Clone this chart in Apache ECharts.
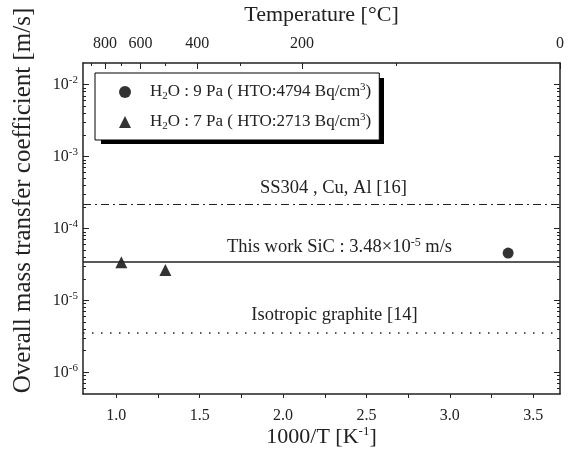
<!DOCTYPE html>
<html>
<head>
<meta charset="utf-8">
<script src="https://cdn.jsdelivr.net/npm/echarts@6/dist/echarts.min.js"></script>
<style>
  html, body { margin: 0; padding: 0; background: #fff; }
  #chart { width: 569px; height: 455px; }
</style>
</head>
<body>
<div id="chart"></div>
<script>
// 数据
const xMin = 0.8;
const xMax = 1000 / 273.15;
const xTickLabels = [1.0, 1.5, 2.0, 2.5, 3.0, 3.5];
const xTicks = [1.0, 1.25, 1.5, 1.75, 2.0, 2.25, 2.5, 2.75, 3.0, 3.25, 3.5];
const tempMajorC = [800, 600, 400, 200, 0];
const tempMinorC = [900, 700, 500, 300, 100];
const yMin = 5e-7;
const yMax = 2e-2;
const yMajor = [1e-6, 1e-5, 1e-4, 1e-3, 1e-2];
const yMinorMult = [2, 3, 4, 5, 6, 7, 8, 9];

const h2o9X = [3.35];
const h2o9Y = [4.55e-5];
const h2o7X = [1.03, 1.294];
const h2o7Y = [3.4e-5, 2.64e-5];

const ss304Value = 2.2e-4;
const thisWorkValue = 3.48e-5;
const graphiteValue = 3.5e-6;

const FONT = '"Liberation Serif", "Times New Roman", serif';
const INK = '#222';

// 温度 -> 1000/T
const toInvT = t => 1000 / (t + 273.15);

// 对数轴的次刻度
const yMinor = [];
[-7, -6, -5, -4, -3, -2].forEach(e => {
  yMinorMult.forEach(m => {
    const v = m * Math.pow(10, e);
    if (v > yMin && v < yMax) yMinor.push(v);
  });
});

const supRich = {
  b: { fontFamily: FONT, fontSize: 16, color: INK },
  s: { fontFamily: FONT, fontSize: 11, color: INK, padding: [0, 0, 9, 0] }
};

const legendText = {
  h2o9: '{t|H}{sub|2}{t|O : 9 Pa ( HTO:4794 Bq/cm}{sup|3}{t|)}',
  h2o7: '{t|H}{sub|2}{t|O : 7 Pa ( HTO:2713 Bq/cm}{sup|3}{t|)}'
};

const chart = echarts.init(document.getElementById('chart'));

function yAxisCfg(pos, values, len, showLine, showLabel, extra) {
  return Object.assign({
    type: 'log',
    position: pos,
    min: yMin,
    max: yMax,
    axisLine: { show: showLine, lineStyle: { color: INK, width: 1.5 } },
    axisTick: { show: true, inside: true, length: len, customValues: values, lineStyle: { color: INK, width: 1 } },
    axisLabel: showLabel ? {
      customValues: values,
      margin: 5,
      formatter: v => '{b|10}{s|' + Math.round(Math.log10(v)) + '}',
      rich: supRich
    } : { show: false },
    splitLine: { show: false }
  }, extra || {});
}

const option = {
  animation: false,
  backgroundColor: '#fff',
  textStyle: { fontFamily: FONT },
  grid: { left: 83, right: 9, top: 63, bottom: 61, containLabel: false, outerBoundsMode: 'none' },
  // 图例阴影
  graphic: [{
    type: 'rect',
    z: 3,
    silent: true,
    shape: { x: 101, y: 78, width: 283, height: 66 },
    style: { fill: '#000' }
  }],
  legend: {
    data: ['h2o9', 'h2o7'],
    orient: 'vertical',
    left: 95,
    top: 73,
    padding: [9, 8, 8, 24],
    itemGap: 10,
    itemWidth: 12,
    itemHeight: 12,
    backgroundColor: '#fff',
    borderColor: '#000',
    borderWidth: 1,
    formatter: name => legendText[name],
    textStyle: {
      padding: [0, 0, 0, 14],
      rich: {
        t: { fontFamily: FONT, fontSize: 17, color: INK },
        sub: { fontFamily: FONT, fontSize: 11, color: INK, padding: [9, 0, 0, 0] },
        sup: { fontFamily: FONT, fontSize: 11, color: INK, padding: [0, 0, 9, 0] }
      }
    }
  },
  xAxis: [
    {
      type: 'value',
      position: 'bottom',
      min: xMin,
      max: xMax,
      axisLine: { lineStyle: { color: INK, width: 1.5 } },
      axisTick: { inside: false, length: 4, customValues: xTicks, lineStyle: { color: INK } },
      axisLabel: {
        customValues: xTickLabels,
        margin: 14,
        fontFamily: FONT, fontSize: 16, color: INK,
        formatter: v => v.toFixed(1)
      },
      splitLine: { show: false },
      name: '1000/T [K{s|-1}]',
      nameLocation: 'middle',
      nameGap: 31,
      nameMoveOverlap: false,
      nameTextStyle: {
        fontFamily: FONT, fontSize: 22, color: INK,
        rich: {
          s: { fontFamily: FONT, fontSize: 13, color: INK, padding: [0, 0, 12, 0] }
        }
      }
    },
    {
      type: 'value',
      position: 'top',
      min: xMin,
      max: xMax,
      axisLine: { lineStyle: { color: INK, width: 1.5 } },
      axisTick: { inside: true, length: 6, customValues: tempMajorC.map(toInvT), lineStyle: { color: INK } },
      axisLabel: {
        customValues: tempMajorC.map(toInvT),
        margin: 11,
        fontFamily: FONT, fontSize: 16, color: INK,
        formatter: v => String(Math.abs(Math.round(1000 / v - 273.15)))
      },
      splitLine: { show: false },
      name: 'Temperature [°C]',
      nameLocation: 'middle',
      nameGap: 37,
      nameMoveOverlap: false,
      nameTextStyle: { fontFamily: FONT, fontSize: 22, color: INK }
    },
    {
      type: 'value',
      position: 'top',
      min: xMin,
      max: xMax,
      axisLine: { show: false },
      axisTick: { inside: true, length: 3, customValues: tempMinorC.map(toInvT), lineStyle: { color: INK } },
      axisLabel: { show: false },
      splitLine: { show: false }
    }
  ],
  yAxis: [
    yAxisCfg('left', yMajor, 6, true, true, {
      name: 'Overall mass transfer coefficient [m/s]',
      nameLocation: 'middle',
      nameRotate: 90,
      nameGap: 47,
      nameMoveOverlap: false,
      nameTextStyle: { fontFamily: FONT, fontSize: 25, color: INK, padding: [0, 0, 0, 56] }
    }),
    yAxisCfg('left', yMinor, 3, false, false),
    yAxisCfg('right', yMajor, 6, true, false),
    yAxisCfg('right', yMinor, 3, false, false)
  ],
  series: [
    {
      name: 'h2o9',
      type: 'scatter',
      symbol: 'circle',
      symbolSize: 11,
      itemStyle: { color: '#000' },
      data: h2o9X.map((x, i) => [x, h2o9Y[i]]),
      markLine: {
        silent: true,
        symbol: 'none',
        precision: 10,
        animation: false,
        label: {
          position: 'insideMiddleTop',
          fontFamily: FONT, fontSize: 18.5, color: INK
        },
        data: [
          {
            yAxis: ss304Value,
            lineStyle: { type: [8, 4, 2, 4], color: INK, width: 1.2 },
            label: { formatter: 'SS304 , Cu, Al [16]', distance: 6, padding: [0, 0, 0, 24] }
          },
          {
            yAxis: thisWorkValue,
            lineStyle: { type: 'solid', color: INK, width: 1.5 },
            label: {
              formatter: 'This work SiC : 3.48×10{s|-5} m/s',
              distance: 3,
              padding: [0, 0, 0, 36],
              rich: {
                s: { fontFamily: FONT, fontSize: 12, color: INK, padding: [0, 0, 10, 0] }
              }
            }
          },
          {
            yAxis: graphiteValue,
            lineStyle: { type: [1.5, 7.5], color: INK, width: 1.5 },
            label: { formatter: 'Isotropic graphite [14]', distance: 9, padding: [0, 0, 0, 26] }
          }
        ]
      }
    },
    {
      name: 'h2o7',
      type: 'scatter',
      symbol: 'triangle',
      symbolSize: 12,
      itemStyle: { color: '#000' },
      data: h2o7X.map((x, i) => [x, h2o7Y[i]])
    }
  ]
};

chart.setOption(option);

window.addEventListener('resize', () => {
  chart.resize();
});
</script>
</body>
</html>
